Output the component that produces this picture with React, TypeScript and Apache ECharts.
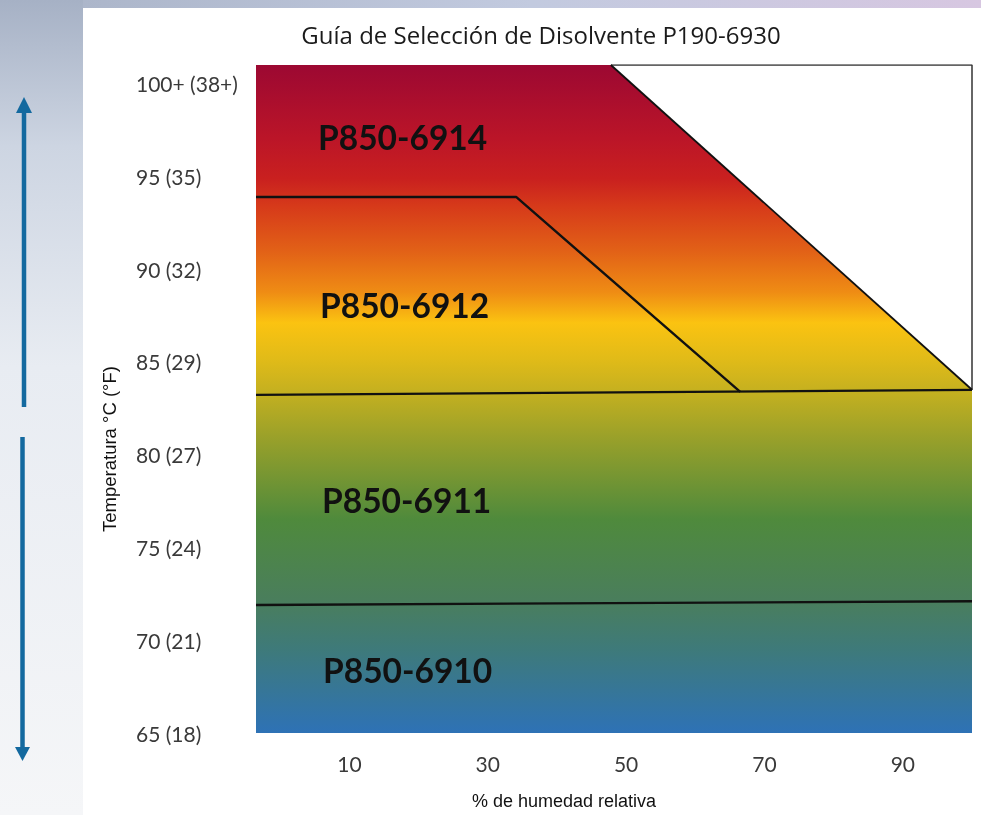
import React, { useEffect, useRef } from "react";
import * as echarts from "echarts";

// ---- data ----
const humidityTicks = [10, 30, 50, 70, 90];
const tempTicks = [65, 70, 75, 80, 85, 90, 95, 100];
const tempLabels = ["65 (18)", "70 (21)", "75 (24)", "80 (27)", "85 (29)", "90 (32)", "95 (35)", "100+ (38+)"];
const humidityRange = [-3.5, 100];
const tempRange = [65, 101];

// [humidity, temperature]
const envelope = [[-3.5, 101], [47.8, 101], [100, 83.5]];
const boundary6910 = [[-3.5, 71.9], [100, 72.1]];
const boundary6911 = [[-3.5, 83.22], [100, 83.49]];
const boundary6912 = [[-3.5, 93.89], [34.1, 93.89], [66.5, 83.38]];
const blankZone = [[47.8, 101], [100, 101], [100, 83.49]];

const productNames = ["P850-6914", "P850-6912", "P850-6911", "P850-6910"];
const productAnchors = [[5.46, 97.12], [5.75, 88.07], [6.04, 77.56], [6.18, 68.4]];

const titleText = "Guía de Selección de Disolvente P190-6930";
const xName = "% de humedad relativa";
const yName = "Temperatura °C (°F)";

export default function App() {
  const ref = useRef<HTMLDivElement>(null);

  useEffect(() => {
    document.body.style.margin = "0";
    const chart = echarts.init(ref.current!, null, { renderer: "svg" });

    const gradient = new echarts.graphic.LinearGradient(0, 0, 0, 1, [
      { offset: 0, color: "#9c0832" },
      { offset: 0.11, color: "#bb1528" },
      { offset: 0.17, color: "#c9201f" },
      { offset: 0.21, color: "#d6391a" },
      { offset: 0.28, color: "#e26217" },
      { offset: 0.34, color: "#ef8c14" },
      { offset: 0.386, color: "#fbc311" },
      { offset: 0.44, color: "#e1bb18" },
      { offset: 0.49, color: "#c4b020" },
      { offset: 0.56, color: "#98a02a" },
      { offset: 0.68, color: "#4f8a3c" },
      { offset: 0.8, color: "#4a7e5c" },
      { offset: 0.875, color: "#3e7a7a" },
      { offset: 1, color: "#2e72b6" },
    ]);

    const blackLine = (data: number[][], width = 2.4, color = "#111") => ({
      type: "line",
      data,
      symbol: "none",
      silent: true,
      lineStyle: { color, width },
      z: 3,
    });

    chart.setOption({
      animation: false,
      backgroundColor: "transparent",
      grid: { left: 256, right: 9, top: 65, bottom: 82, containLabel: false },
      xAxis: {
        type: "value",
        min: humidityRange[0],
        max: humidityRange[1],
        axisLine: { show: false },
        axisTick: { show: false },
        splitLine: { show: false },
        axisLabel: {
          customValues: humidityTicks,
          fontFamily: "Lato",
          fontSize: 21,
          color: "#3a3a3a",
          margin: 20,
        },
      },
      yAxis: {
        type: "value",
        min: tempRange[0],
        max: tempRange[1],
        axisLine: { show: false },
        axisTick: { show: false },
        splitLine: { show: false },
        axisLabel: {
          customValues: tempTicks,
          formatter: (v: number) => {
            const i = tempTicks.indexOf(v);
            return i >= 0 ? tempLabels[i] : "";
          },
          align: "left",
          margin: 120,
          fontFamily: "Lato",
          fontSize: 21,
          color: "#3a3a3a",
        },
      },
      graphic: [
        {
          type: "rect",
          z: -10,
          shape: { x: 0, y: 0, width: 83, height: 815 },
          style: {
            fill: new echarts.graphic.LinearGradient(0, 0, 0, 1, [
              { offset: 0, color: "#a6b1c5" },
              { offset: 0.18, color: "#cdd5e2" },
              { offset: 0.45, color: "#e8ecf2" },
              { offset: 1, color: "#f5f6f8" },
            ]),
          },
        },
        {
          type: "rect",
          z: -10,
          shape: { x: 83, y: 0, width: 898, height: 8 },
          style: {
            fill: new echarts.graphic.LinearGradient(0, 0, 1, 0, [
              { offset: 0, color: "#acb6ca" },
              { offset: 0.5, color: "#c2cadf" },
              { offset: 1, color: "#d7c7e1" },
            ]),
          },
        },
        {
          type: "rect",
          z: -10,
          shape: { x: 83, y: 8, width: 898, height: 807 },
          style: { fill: "#ffffff" },
        },
        {
          type: "line",
          shape: { x1: 24, y1: 112, x2: 24, y2: 407 },
          style: { stroke: "#13699f", lineWidth: 4.5 },
        },
        {
          type: "polygon",
          shape: { points: [[16, 113], [32, 113], [24, 97]] },
          style: { fill: "#13699f" },
        },
        {
          type: "line",
          shape: { x1: 22.5, y1: 437, x2: 22.5, y2: 748 },
          style: { stroke: "#13699f", lineWidth: 4.5 },
        },
        {
          type: "polygon",
          shape: { points: [[15, 747], [30, 747], [22.5, 761]] },
          style: { fill: "#13699f" },
        },
        {
          type: "text",
          x: 541,
          y: 34,
          style: {
            text: titleText,
            fontFamily: "Open Sans",
            fontSize: 24,
            fill: "#1a1a1a",
            align: "center",
            verticalAlign: "middle",
          },
        },
        {
          type: "text",
          x: 109,
          y: 449,
          rotation: Math.PI / 2,
          style: {
            text: yName,
            fontFamily: "Liberation Sans",
            fontSize: 18.5,
            fill: "#111",
            align: "center",
            verticalAlign: "middle",
          },
        },
        {
          type: "text",
          x: 564,
          y: 801,
          style: {
            text: xName,
            fontFamily: "Liberation Sans",
            fontSize: 18,
            fill: "#111",
            align: "center",
            verticalAlign: "middle",
          },
        },
      ],
      series: [
        {
          type: "line",
          data: envelope,
          symbol: "none",
          silent: true,
          lineStyle: { width: 0 },
          areaStyle: { color: gradient, opacity: 1, origin: "start" },
          z: 1,
        },
        blackLine(blankZone, 1.5, "#333"),
        blackLine([envelope[1], envelope[2]], 1.8, "#111"),
        blackLine(boundary6910),
        blackLine(boundary6911),
        blackLine(boundary6912),
        {
          type: "custom",
          silent: true,
          z: 5,
          clip: false,
          encode: { x: 0, y: 1 },
          data: productAnchors.map((p, i) => [p[0], p[1], i]),
          renderItem: (params: any, api: any) => {
            const pt = api.coord([api.value(0), api.value(1)]);
            return {
              type: "text",
              x: pt[0],
              y: pt[1],
              style: {
                text: productNames[params.dataIndex],
                fontFamily: "Lato",
                fontWeight: "bold",
                fontSize: 33.5,
                fill: "#111",
                align: "left",
                verticalAlign: "middle",
              },
            };
          },
        },
      ],
    });

    return () => chart.dispose();
  }, []);

  return (
    <div
      ref={ref}
      style={{ position: "fixed", left: 0, top: 0, width: 981, height: 815 }}
    />
  );
}
